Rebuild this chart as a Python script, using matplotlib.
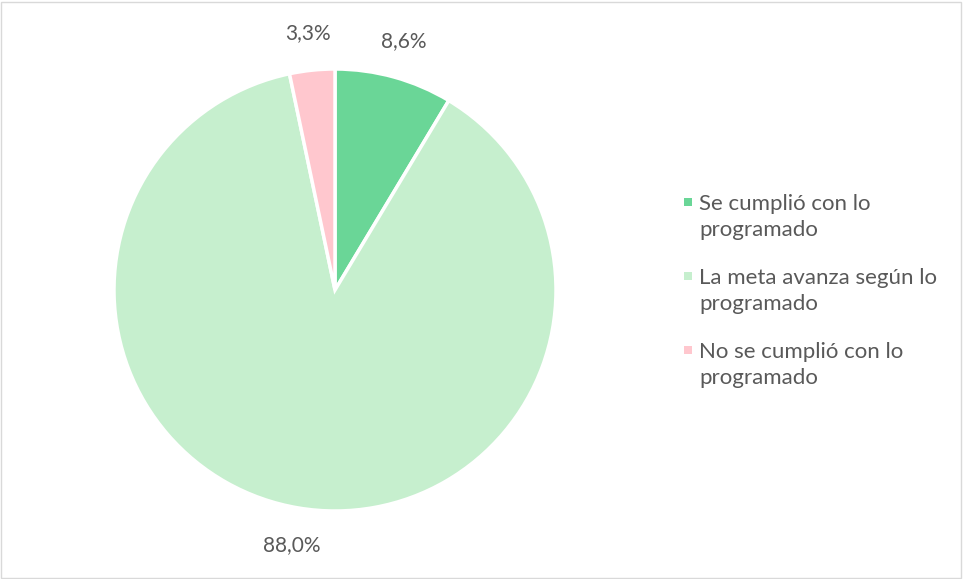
import matplotlib
matplotlib.use("Agg")
import matplotlib.pyplot as plt
from matplotlib.patches import Rectangle

categories = ["Se cumplió con lo\nprogramado",
              "La meta avanza según lo\nprogramado",
              "No se cumplió con lo\nprogramado"]
values = [8.6, 88.0, 3.3]
pct_labels = ["8,6%", "88,0%", "3,3%"]
colors = ["#6AD697", "#C6EFCE", "#FFC7CE"]

plt.rcParams['font.family'] = ['Lato', 'DejaVu Sans']
text_color = "#595959"

fig = plt.figure(figsize=(9.63, 5.79), dpi=100)
fig.patches.append(Rectangle((0.001, 0.002), 0.997, 0.995, transform=fig.transFigure,
                             fill=False, edgecolor="#D9D9D9", linewidth=1.0))

W, H = 963, 579
cx, cy, r = 335, 290, 221
size = 2 * r * 1.35
ax = fig.add_axes([(cx - size / 2) / W, (H - cy - size / 2) / H, size / W, size / H])
wedges, texts = ax.pie(values, labels=pct_labels, colors=colors, startangle=90,
                       counterclock=False, labeldistance=1.17,
                       wedgeprops=dict(edgecolor="white", linewidth=2.5),
                       textprops=dict(color=text_color, fontsize=15))
for t in texts:
    t.set_ha("center")
    t.set_va("center")
ax.set_xlim(-1.35, 1.35)
ax.set_ylim(-1.35, 1.35)
ax.set_aspect("equal")
ax.axis("off")

# legend drawn manually so the swatch lines up with the first text line
for i, (cat, col) in enumerate(zip(categories, colors)):
    yc = 202 + i * 74
    fig.patches.append(Rectangle((684 / W, 1 - (yc + 4) / H), 8 / W, 8 / H,
                                 transform=fig.transFigure, facecolor=col,
                                 edgecolor="none"))
    fig.text(699 / W, 1 - (yc - 8) / H, cat, ha="left", va="top",
             fontsize=16, color=text_color, linespacing=1.36)

fig.savefig("out.png", dpi=100)
